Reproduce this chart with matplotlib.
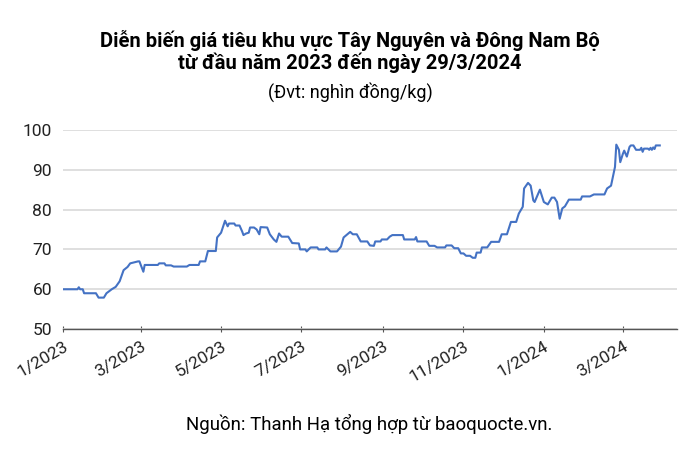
import matplotlib
matplotlib.use("Agg")
import matplotlib.pyplot as plt
from matplotlib.transforms import ScaledTranslation
from datetime import date, timedelta

plt.rcParams['font.family'] = ['Roboto', 'DejaVu Sans']

start = date(2023, 1, 1)
# day offsets from 1/1/2023 and price (nghìn đồng/kg)
days = [0, 11, 12, 13, 15, 16, 25, 27, 31, 33, 37, 40, 43, 46, 49, 51, 57, 58, 61, 62,
        72, 73, 77, 78, 82, 84, 94, 96, 103, 104, 108, 110, 116, 117, 120, 123, 125, 126,
        130, 131, 134, 136, 137, 139, 141, 142, 145, 147, 149, 150, 155, 157, 160, 162, 164,
        166, 171, 174, 179, 180, 184, 185, 188, 193, 194, 199, 200, 203, 208, 211, 213, 218,
        220, 223, 226, 231, 233, 236, 237, 241, 242, 246, 248, 250, 258, 259, 267, 268, 269,
        276, 278, 282, 284, 290, 291, 295, 297, 300, 302, 304, 306, 309, 311, 313, 314, 317,
        318, 322, 325, 331, 333, 337, 340, 344, 346, 349, 350, 353, 355, 357, 358, 362, 365,
        368, 371, 373, 375, 377, 379, 381, 384, 393, 394, 400, 403, 411, 413, 416, 419, 420,
        422, 423, 425, 426, 428, 430, 431, 433, 435, 438, 439, 440, 441, 444, 445, 446, 447,
        448, 449, 450, 453]
prices = [60.0, 60.0, 60.5, 60.0, 60.0, 59.0, 59.0, 57.9, 57.9, 59.0, 60.0, 60.6, 62.0, 64.8, 65.6, 66.5, 67.0, 67.0, 64.4, 66.1,
          66.1, 66.5, 66.5, 66.0, 66.0, 65.7, 65.7, 66.1, 66.1, 67.0, 67.0, 69.6, 69.6, 73.0, 74.2, 77.2, 75.8, 76.5,
          76.5, 76.0, 76.0, 74.5, 73.6, 74.0, 74.2, 75.5, 75.5, 75.0, 73.8, 75.6, 75.5, 73.8, 72.5, 71.9, 74.0,
          73.2, 73.2, 71.6, 71.5, 70.0, 70.0, 69.5, 70.5, 70.5, 70.0, 70.0, 70.5, 69.5, 69.5, 70.7, 73.0, 74.4,
          73.8, 73.8, 72.0, 72.0, 71.0, 70.9, 72.0, 72.0, 72.5, 72.5, 73.2, 73.6, 73.6, 72.5, 72.5, 73.1, 72.0,
          72.0, 70.9, 70.9, 70.5, 70.5, 71.0, 71.0, 70.3, 70.3, 69.0, 69.0, 68.4, 68.4, 67.9, 67.9, 69.2, 69.2,
          70.5, 70.5, 71.9, 71.9, 73.8, 73.8, 76.9, 76.9, 79.0, 80.7, 85.3, 86.7, 86.0, 82.3, 81.9, 85.0, 81.9,
          81.3, 83.0, 83.0, 81.9, 77.7, 80.3, 80.8, 82.5, 82.5, 83.3, 83.3, 83.8, 83.8, 85.3, 86.0, 90.7, 96.3,
          95.0, 91.9, 94.0, 94.8, 93.3, 95.7, 96.1, 96.1, 95.0, 95.0, 95.5, 94.5, 95.3, 95.3, 95.0, 95.5, 95.0,
          95.6, 95.2, 96.1, 96.1]

tick_labels = ['1/2023', '3/2023', '5/2023', '7/2023', '9/2023', '11/2023', '1/2024', '3/2024']
tick_dates = [date(2023, 1, 1), date(2023, 3, 1), date(2023, 5, 1), date(2023, 7, 1),
              date(2023, 9, 1), date(2023, 11, 1), date(2024, 1, 1), date(2024, 3, 1)]

x = [start + timedelta(days=d) for d in days]

fig = plt.figure(figsize=(7, 4.59), dpi=100)
ax = fig.add_axes([0.09, 0.283, 0.877, 0.434])
ax.plot(x, prices, color='#4472c4', lw=1.5, solid_joinstyle='round')

ax.set_ylim(50, 100)
ax.set_yticks([50, 60, 70, 80, 90, 100])
ax.set_xlim(date(2023, 1, 1), date(2024, 4, 11))
ax.set_xticks(tick_dates)
ax.set_xticklabels(tick_labels, rotation=30, ha='right', rotation_mode='anchor')
offset = ScaledTranslation(6 / 72, 0, fig.dpi_scale_trans)
for lbl in ax.get_xticklabels():
    lbl.set_transform(lbl.get_transform() + offset)
ax.grid(axis='y', color='#d9d9d9', lw=1.2)
ax.set_axisbelow(True)
for s in ['top', 'right', 'left']:
    ax.spines[s].set_visible(False)
ax.spines['bottom'].set_color('#555555')
ax.spines['bottom'].set_linewidth(1.0)
ax.tick_params(axis='y', length=0, labelsize=12.5, pad=8, colors='#222222')
ax.tick_params(axis='x', length=4, direction='inout', labelsize=12.5, pad=5, colors='#555555', labelcolor='#222222')

fig.text(0.5, 0.913, 'Diễn biến giá tiêu khu vực Tây Nguyên và Đông Nam Bộ', ha='center', va='center',
         fontsize=14.5, fontweight='bold')
fig.text(0.5, 0.864, 'từ đầu năm 2023 đến ngày 29/3/2024', ha='center', va='center',
         fontsize=14.5, fontweight='bold')
fig.text(0.5, 0.80, '(Đvt: nghìn đồng/kg)', ha='center', va='center', fontsize=13)
fig.text(0.528, 0.077, 'Nguồn: Thanh Hạ tổng hợp từ baoquocte.vn.', ha='center', va='center', fontsize=13.4)

fig.savefig('out.png', dpi=100)
